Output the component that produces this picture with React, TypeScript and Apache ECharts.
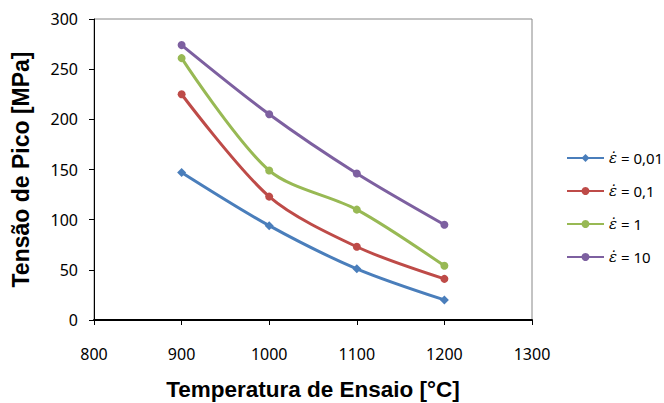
import React, { useEffect, useRef } from "react";
import * as echarts from "echarts";

const temperatures = [900, 1000, 1100, 1200];
const seriesNames = ["ε̇ = 0,01", "ε̇ = 0,1", "ε̇ = 1", "ε̇ = 10"];
const rate001 = [147, 94, 51, 20];
const rate01 = [225, 123, 73, 41];
const rate1 = [261, 149, 110, 54];
const rate10 = [274, 205, 146, 95];
const colors = ["#4a7ebb", "#be4b48", "#98b954", "#7d60a0"];
const symbols = ["diamond", "circle", "circle", "circle"];

export default function App() {
  const ref = useRef<HTMLDivElement>(null);
  useEffect(() => {
    if (!ref.current) return;
    const chart = echarts.init(ref.current, null, { renderer: "svg" });
    const all = [rate001, rate01, rate1, rate10];
    const font = "'Liberation Sans', Arial, sans-serif";
    const tickFont = "'Noto Sans', sans-serif";
    chart.setOption({
      animation: false,
      textStyle: { fontFamily: font },
      grid: {
        left: 94,
        right: 132,
        top: 19,
        bottom: 83,
        show: true,
        containLabel: false,
        outerBoundsMode: "none",
        borderColor: "#888",
        borderWidth: 1,
      },
      legend: {
        orient: "vertical",
        left: 561,
        top: 144,
        itemWidth: 37,
        itemHeight: 10,
        itemGap: 15,
        data: seriesNames,
        textStyle: {
          fontSize: 15,
          lineHeight: 18,
          color: "#000",
          fontFamily: tickFont,
          rich: {
            e: { fontStyle: "italic", fontSize: 15, lineHeight: 18, fontFamily: "'DejaVu Serif', serif", color: "#000" },
          },
        },
        formatter: (name: string) => {
          const rest = name.replace("ε̇", "");
          return "{e|ε̇}" + rest;
        },
      },
      xAxis: {
        type: "value",
        min: 800,
        max: 1300,
        interval: 100,
        name: "Temperatura de Ensaio [°C]",
        nameLocation: "middle",
        nameGap: 58,
        nameTextStyle: { fontSize: 22.5, fontWeight: "bold", color: "#000", fontFamily: font },
        axisLine: { lineStyle: { color: "#000", width: 2 } },
        axisTick: { show: true, length: 5, lineStyle: { color: "#000" } },
        axisLabel: { fontSize: 16, color: "#000", margin: 26, fontFamily: tickFont, formatter: (v: number) => String(v) },
        splitLine: { show: false },
      },
      yAxis: {
        type: "value",
        min: 0,
        max: 300,
        interval: 50,
        name: "Tensão de Pico [MPa]",
        nameLocation: "middle",
        nameGap: 62,
        nameTextStyle: { fontSize: 23, fontWeight: "bold", color: "#000", fontFamily: font },
        axisLine: { show: true, lineStyle: { color: "#000", width: 1 } },
        axisTick: { show: true, length: 5, lineStyle: { color: "#000" } },
        axisLabel: { fontSize: 16, color: "#000", margin: 16, fontFamily: tickFont },
        splitLine: { show: false },
      },
      series: all.map((vals, i) => ({
        name: seriesNames[i],
        type: "line",
        smooth: 0.3,
        data: temperatures.map((t, j) => [t, vals[j]]),
        symbol: symbols[i],
        symbolSize: i === 0 ? 9 : 8,
        color: colors[i],
        lineStyle: { width: 3, color: colors[i] },
        itemStyle: { color: colors[i] },
      })),
    });
    return () => chart.dispose();
  }, []);
  return <div ref={ref} style={{ width: 664, height: 403, position: "absolute", left: 0, top: 0 }} />;
}
